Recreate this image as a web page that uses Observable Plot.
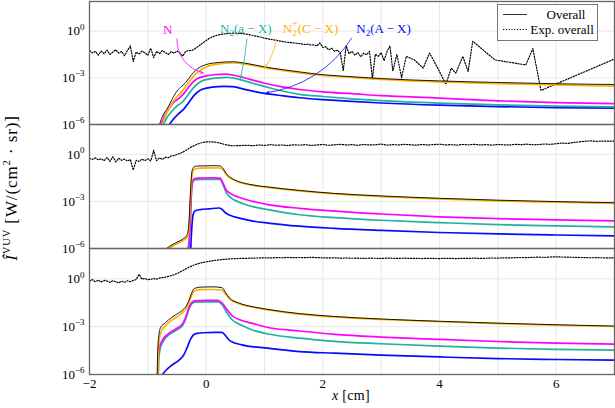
<!DOCTYPE html>
<html><head><meta charset="utf-8">
<script src="https://cdn.jsdelivr.net/npm/d3@7"></script>
<script src="https://cdn.jsdelivr.net/npm/@observablehq/plot@0.6"></script>
<style>
body{margin:0;background:#fff}
#chart{position:relative;width:615px;height:408px;font-family:"Liberation Serif",serif;color:#000;overflow:hidden}
#chart svg, #chart svg text{font-family:"Liberation Serif",serif !important}
.pan{position:absolute;left:0}
#ylab{position:absolute;left:12px;top:188px;transform:translate(-50%,-50%) rotate(-90deg);white-space:nowrap;font-size:17px;letter-spacing:0.9px}
#xlab{position:absolute;left:351px;top:396px;transform:translate(-50%,-50%);white-space:nowrap;font-size:14px;letter-spacing:0.3px}
#legend{position:absolute;left:497px;top:4px;width:99px;height:35px;border:1px solid #777;background:#fff}
#legend svg{position:absolute;left:0;top:0}
</style></head>
<body>
<div id="chart">
  <div id="ylab"><i>Î</i><sup style="vertical-align:7px;font-size:10.5px;line-height:0">VUV</sup> [W/(cm<sup style="vertical-align:7px;font-size:10.5px;line-height:0">2</sup> · sr)]</div>
  <div id="xlab"><i>x</i> [cm]</div>
</div>
<script>
// ---------- axes / ticks ----------
const X_GRID = [-2, -1, 0, 1, 2, 3, 4, 5, 6, 7];
const X_TICKS = [-2, 0, 2, 4, 6];
const Y_TICKS = [1e-6, 1e-3, 1];
const Y_GRID = [1e-3, 1];
const Y_DOMAIN = [1e-6, 80];

const COLORS = {N2A: "#0a0aff", N2a: "#1fb3a0", N: "#ff00ff", N2pC: "#fcb300", overall: "#000000"};
const DRAW_ORDER = ["N2A", "N2a", "N", "N2pC", "overall"];

// ---------- top panel: model curves [x, log10 I] ----------
const topOverall = [[-0.80,-6],[-0.74,-5.4],[-0.67,-5.0],[-0.58,-4.35],[-0.5,-3.85],[-0.42,-3.55],[-0.35,-3.3],[-0.25,-2.8],[-0.12,-2.35],[0.0,-2.15],[0.2,-2.02],[0.45,-1.97],[0.7,-2.08],[1.0,-2.3],[1.3,-2.47],[1.6,-2.62],[2.0,-2.8],[2.5,-2.93],[3,-3.05],[4,-3.2],[5,-3.3],[6,-3.38],[7,-3.43]];
const topN2pC = [[-0.75,-6],[-0.7,-5.45],[-0.62,-4.85],[-0.52,-4.3],[-0.44,-4.0],[-0.36,-3.6],[-0.25,-3.05],[-0.12,-2.55],[0,-2.3],[0.2,-2.12],[0.45,-2.05],[0.7,-2.14],[1.0,-2.35],[1.3,-2.52],[1.6,-2.68],[2,-2.85],[2.5,-2.98],[3,-3.1],[4,-3.26],[5,-3.37],[6,-3.46],[7,-3.53]];
const topN = [[-0.77,-6],[-0.72,-5.5],[-0.65,-5.05],[-0.55,-4.55],[-0.46,-4.3],[-0.38,-4.0],[-0.28,-3.5],[-0.15,-3.05],[0,-2.88],[0.15,-2.8],[0.32,-2.76],[0.5,-2.85],[0.75,-3.1],[1.0,-3.35],[1.3,-3.58],[1.6,-3.75],[2,-3.9],[2.5,-4.02],[3,-4.15],[4,-4.3],[5,-4.48],[6,-4.6],[7,-4.66]];
const topN2a = [[-0.73,-6],[-0.68,-5.6],[-0.6,-5.2],[-0.5,-4.8],[-0.42,-4.6],[-0.34,-4.25],[-0.22,-3.65],[-0.1,-3.25],[0.05,-3.08],[0.2,-3.0],[0.35,-2.97],[0.55,-3.08],[0.8,-3.35],[1.0,-3.55],[1.3,-3.85],[1.6,-4.06],[2,-4.2],[2.5,-4.35],[3,-4.47],[4,-4.63],[5,-4.74],[6,-4.82],[7,-4.87]];
const topN2A = [[-0.63,-6],[-0.56,-5.65],[-0.47,-5.3],[-0.38,-5.0],[-0.3,-4.6],[-0.2,-4.1],[-0.08,-3.75],[0.1,-3.6],[0.3,-3.55],[0.45,-3.57],[0.7,-3.78],[1.0,-4.0],[1.3,-4.15],[1.6,-4.28],[2,-4.4],[2.5,-4.52],[3,-4.62],[4,-4.76],[5,-4.85],[6,-4.91],[7,-4.95]];
// top panel: measured (log10 I), fine samples from x=-2 step 0.05, then sparse [x, log10 I]
const topExpFine = [-1.25,-1.40,-1.30,-1.55,-1.28,-1.45,-1.22,-1.50,-1.35,-1.20,
 -1.42,-1.30,-1.58,-1.25,-0.95,-1.95,-1.35,-1.48,-1.28,-1.40,
 -1.55,-1.10,-1.70,-1.30,-1.45,-1.25,-1.38,-1.50,-1.32,-1.42,
 -1.28,-1.40,-1.60,-1.30,-1.25,
 -1.25,-1.15,-1.02,-0.88,-0.74,-0.60,-0.48,-0.38,-0.31,-0.25,
 -0.21,-0.18,-0.16,-0.14,-0.13,-0.13,-0.14,-0.15,-0.17,-0.20,
 -0.24,-0.28,-0.32,-0.36,-0.40,-0.45,-0.49,-0.52,-0.56,-0.60,
 -0.63,-0.66,-0.69,-0.72,-0.74,-0.76,-0.78,-0.80,-0.83,-0.86,
 -0.84,-0.90,-0.88,-0.95,-0.75,-1.05,-1.00,-1.20,-1.10,-1.30,
 -1.22,-1.40,-2.55,-0.95,-1.45,-1.30,-1.55,-1.38,-1.65,-1.42,
 -1.52,-1.30,-3.05,-1.48,-1.62,-1.38,-1.90,-1.30,-0.95,-2.55];
const topExpSparse = [[3.27,-1.5],[3.35,-3.0],[3.43,-1.62],[3.57,-1.85],[3.72,-2.38],[3.83,-1.41],[3.97,-2.38],[4.11,-3.41],[4.2,-2.38],[4.28,-2.7],[4.4,-1.62],[4.49,-2.59],[4.57,-0.65],[4.95,-1.85],[5.48,-2.17],[5.6,-1.12],[5.74,-3.81],[7.0,-1.79]];

// ---------- middle panel ----------
const midOverall = [[-0.68,-6],[-0.6,-5.8],[-0.5,-5.6],[-0.4,-5.4],[-0.33,-5.15],[-0.3,-4.6],[-0.27,-2.5],[-0.245,-1.1],[-0.21,-0.8],[-0.15,-0.74],[0,-0.73],[0.15,-0.72],[0.24,-0.74],[0.29,-0.9],[0.34,-1.2],[0.42,-1.48],[0.55,-1.72],[0.8,-1.95],[1.06,-2.08],[1.6,-2.3],[2.2,-2.49],[3,-2.65],[4,-2.8],[5,-2.92],[6,-3.01],[7,-3.08]];
const midN2pC = [[-0.64,-6],[-0.55,-5.8],[-0.45,-5.6],[-0.36,-5.4],[-0.31,-5.2],[-0.29,-4.5],[-0.265,-2.5],[-0.24,-1.3],[-0.2,-0.95],[-0.1,-0.88],[0.1,-0.86],[0.24,-0.87],[0.29,-1.0],[0.34,-1.28],[0.42,-1.53],[0.55,-1.76],[0.8,-1.98],[1.06,-2.11],[1.6,-2.33],[2.2,-2.52],[3,-2.69],[4,-2.84],[5,-2.96],[6,-3.05],[7,-3.12]];
const midN = [[-0.31,-6],[-0.285,-5.2],[-0.265,-3.5],[-0.245,-2.0],[-0.22,-1.6],[-0.15,-1.52],[0.1,-1.5],[0.24,-1.52],[0.29,-1.85],[0.34,-2.25],[0.42,-2.5],[0.55,-2.72],[0.8,-3.0],[1.06,-3.2],[1.6,-3.44],[2.2,-3.62],[3,-3.8],[4,-3.98],[5,-4.1],[6,-4.18],[7,-4.24]];
const midN2a = [[-0.295,-6],[-0.275,-4.8],[-0.255,-2.6],[-0.235,-1.85],[-0.2,-1.63],[-0.1,-1.6],[0.1,-1.59],[0.24,-1.6],[0.29,-1.95],[0.34,-2.4],[0.42,-2.75],[0.55,-3.02],[0.8,-3.33],[1.06,-3.52],[1.6,-3.85],[2.2,-4.03],[3,-4.2],[4,-4.35],[5,-4.48],[6,-4.56],[7,-4.62]];
const midN2A = [[-0.265,-6],[-0.245,-4.6],[-0.225,-3.85],[-0.19,-3.6],[-0.1,-3.52],[0.05,-3.47],[0.22,-3.42],[0.27,-3.5],[0.33,-3.72],[0.42,-3.9],[0.55,-4.05],[0.8,-4.25],[1.06,-4.38],[1.6,-4.58],[2.2,-4.72],[3,-4.85],[4,-4.98],[5,-5.07],[6,-5.14],[7,-5.19]];
// measured: from x=-2 step 0.05 (to 0.5), then from x=0.6 step 0.1 (to 7)
const midExpFine = [-0.25,-0.32,-0.22,-0.35,-0.28,-0.40,-0.20,-0.45,-0.15,-0.48,
 -0.25,-0.38,-0.30,-0.42,-0.33,-1.00,-0.38,-0.45,-0.30,-0.40,
 -0.28,-0.42,0.25,-0.40,-0.22,-0.32,-0.18,-0.22,-0.10,-0.08,
 0.00,0.06,0.14,0.25,0.37,0.48,0.57,0.65,0.72,0.76,
 0.79,0.80,0.80,0.78,0.75,0.70,0.65,0.61,0.57,0.55,0.55];
const midExpCoarse = [0.56,0.58,0.55,0.60,0.57,0.62,0.58,0.60,0.56,0.61,
 0.59,0.62,0.57,0.60,0.63,0.58,0.61,0.64,0.60,0.62,
 0.58,0.63,0.60,0.61,0.66,0.59,0.62,0.60,0.64,0.61,
 0.59,0.63,0.60,0.62,0.65,0.60,0.62,0.59,0.63,0.61,
 0.64,0.60,0.62,0.59,0.63,0.61,0.60,0.64,0.62,0.65,
 0.61,0.63,0.66,0.64,0.68,0.72,0.70,0.76,0.80,0.84,
 0.86,0.83,0.85,0.84,0.84];

// ---------- bottom panel ----------
const botOverall = [[-0.84,-6],[-0.83,-4.5],[-0.81,-3.5],[-0.78,-3.05],[-0.7,-2.75],[-0.6,-2.45],[-0.5,-2.2],[-0.4,-1.95],[-0.35,-1.75],[-0.3,-1.4],[-0.25,-0.9],[-0.2,-0.6],[-0.1,-0.52],[0.1,-0.5],[0.27,-0.55],[0.33,-0.85],[0.4,-1.2],[0.55,-1.5],[0.8,-1.75],[1.06,-1.92],[1.6,-2.18],[2.2,-2.36],[3,-2.52],[4,-2.66],[5,-2.78],[6,-2.88],[7,-2.96]];
const botN2pC = [[-0.83,-6],[-0.82,-4.6],[-0.8,-3.7],[-0.77,-3.3],[-0.7,-2.95],[-0.6,-2.62],[-0.5,-2.38],[-0.4,-2.1],[-0.35,-1.9],[-0.3,-1.55],[-0.25,-1.05],[-0.2,-0.75],[-0.1,-0.68],[0.1,-0.67],[0.27,-0.7],[0.33,-0.95],[0.4,-1.25],[0.55,-1.55],[0.8,-1.78],[1.06,-1.95],[1.6,-2.21],[2.2,-2.39],[3,-2.55],[4,-2.69],[5,-2.81],[6,-2.91],[7,-2.99]];
const botN = [[-0.83,-6],[-0.82,-4.8],[-0.8,-4.3],[-0.75,-3.85],[-0.65,-3.45],[-0.5,-3.1],[-0.4,-2.8],[-0.35,-2.4],[-0.3,-1.85],[-0.25,-1.5],[-0.2,-1.38],[0,-1.35],[0.2,-1.35],[0.27,-1.5],[0.35,-1.9],[0.44,-2.3],[0.6,-2.6],[0.78,-2.78],[1.06,-3.05],[1.6,-3.27],[2.2,-3.48],[3,-3.65],[4,-3.8],[5,-3.93],[6,-4.03],[7,-4.1]];
const botN2a = [[-0.82,-6],[-0.81,-5.0],[-0.79,-4.4],[-0.74,-3.95],[-0.65,-3.55],[-0.5,-3.2],[-0.4,-2.9],[-0.35,-2.5],[-0.3,-1.95],[-0.25,-1.58],[-0.2,-1.46],[0,-1.44],[0.2,-1.44],[0.27,-1.6],[0.35,-2.1],[0.44,-2.55],[0.6,-2.9],[0.78,-3.19],[1.06,-3.46],[1.6,-3.72],[2.2,-3.92],[3,-4.07],[4,-4.22],[5,-4.34],[6,-4.42],[7,-4.47]];
const botN2A = [[-0.75,-6],[-0.68,-5.7],[-0.59,-5.42],[-0.45,-5.05],[-0.39,-4.81],[-0.33,-4.35],[-0.27,-3.8],[-0.22,-3.52],[-0.15,-3.42],[-0.05,-3.38],[0.15,-3.36],[0.27,-3.36],[0.34,-3.6],[0.41,-3.89],[0.61,-4.14],[1.06,-4.35],[1.6,-4.56],[2.2,-4.66],[3,-4.78],[4,-4.9],[5,-5.0],[6,-5.06],[7,-5.1]];
const botExpFine = [-0.15,-0.05,-0.18,-0.08,-0.20,-0.10,-0.14,-0.22,-0.12,-0.18,
 -0.25,-0.15,-0.22,-0.12,-0.18,-0.10,-0.05,0.28,-0.02,0.02,
 -0.05,-0.03,0.02,-0.02,0.05,0.08,0.10,0.15,0.20,0.26,
 0.33,0.42,0.52,0.62,0.72,0.80,0.88,0.94,0.99,1.03,
 1.07,1.10,1.13,1.16,1.18,1.20,1.22,1.24,1.25,1.26,1.27];
const botExpCoarse = [1.28,1.29,1.30,1.31,1.32,1.31,1.33,1.32,1.34,1.33,
 1.34,1.33,1.35,1.33,1.32,1.31,1.32,1.30,1.31,1.29,
 1.30,1.28,1.30,1.29,1.28,1.30,1.29,1.28,1.30,1.28,
 1.29,1.27,1.29,1.28,1.27,1.29,1.28,1.27,1.29,1.28,
 1.30,1.28,1.29,1.31,1.30,1.32,1.31,1.33,1.34,1.33,
 1.35,1.36,1.35,1.37,1.38,1.37,1.36,1.35,1.34,1.33,
 1.32,1.33,1.32,1.31,1.32];

// ---------- annotations (top panel), positions in data units (x, log10 I) ----------
const ANNOT = [
  {key:"N",    plain:"N",          color:COLORS.N,    lx:-0.66, ly:0.10, x1:-0.50, y1:-0.50, x2:-0.05, y2:-2.68, bend:-40},
  {key:"N2a",  plain:"N2(a − X)",  color:COLORS.N2a,  lx:0.68,  ly:0.14, x1:0.70,  y1:-0.50, x2:0.59,  y2:-3.03, bend:4},
  {key:"N2pC", plain:"N2+(C − X)", color:COLORS.N2pC, lx:1.79,  ly:0.14, x1:1.21,  y1:-0.47, x2:1.01,  y2:-2.36, bend:12},
  {key:"N2A",  plain:"N2(A − X)",  color:COLORS.N2A,  lx:3.04,  ly:0.14, x1:2.49,  y1:-0.47, x2:1.03,  y2:-3.96, bend:25}
];
const RICH = {
  "N2(a − X)": [{t:"N"},{t:"2",fs:9,dy:3},{t:"(a − X)",dy:-3}],
  "N2+(C − X)": [{t:"N"},{t:"2",fs:9,dy:3},{t:"+",fs:9.5,dx:-4.6,dy:-9},{t:"(C − X)",dy:6,dx:0.3}],
  "N2(A − X)": [{t:"N"},{t:"2",fs:9,dy:3},{t:"(A − X)",dy:-3}]
};
const LEGEND = [{label: "Overall", dash: null, cx: 68}, {label: "Exp. overall", dash: "1.2 1.6", cx: 64}];

// ---------- helpers ----------
const SVGNS = "http://www.w3.org/2000/svg";
const FONT = '"Liberation Serif", serif';
const SUP = {"-":"⁻","0":"⁰","1":"¹","2":"²","3":"³","4":"⁴","5":"⁵","6":"⁶","7":"⁷","8":"⁸","9":"⁹"};
const expOf = d => Math.round(Math.log10(d));
const yFmt = d => "10" + String(expOf(d)).split("").map(c => SUP[c]).join("");
const xFmt = d => d < 0 ? "−" + (-d) : String(d);
const seg = (start, step, vals) => vals.map((v, i) => ({x: Math.round((start + i * step) * 100) / 100, y: 10 ** v}));
const pairs = arr => arr.map(([x, v]) => ({x, y: 10 ** v}));

function richText(el, segs) {
  while (el.firstChild) el.removeChild(el.firstChild);
  for (const s of segs) {
    const t = document.createElementNS(SVGNS, "tspan");
    t.textContent = s.t;
    if (s.fs) t.setAttribute("font-size", s.fs);
    if (s.dy) t.setAttribute("dy", s.dy);
    if (s.dx) t.setAttribute("dx", s.dx);
    el.appendChild(t);
  }
}

function panel(models, expRows, {top, height, marginTop, marginBottom, xAxis, extra}) {
  const marks = [
    Plot.gridX(X_GRID, {stroke: "#e2e2e2", strokeOpacity: 1, strokeWidth: 0.8}),
    Plot.gridY(Y_GRID, {stroke: "#e2e2e2", strokeOpacity: 1, strokeWidth: 0.8}),
    Plot.line(expRows, {x: "x", y: "y", stroke: "#000", strokeWidth: 1.2, strokeDasharray: "1.2 1.6", clip: true})
  ];
  for (const k of DRAW_ORDER) {
    marks.push(Plot.line(models[k], {x: d => d[0], y: d => 10 ** d[1], stroke: COLORS[k],
      strokeWidth: k === "overall" ? 0.9 : 1.7, curve: "monotone-x", clip: true}));
  }
  marks.push(Plot.frame({stroke: "#666", strokeWidth: 1.3}));
  marks.push(Plot.axisY(Y_TICKS, {tickSize: 0, tickPadding: 5, tickFormat: yFmt, label: null, fontSize: 13}));
  if (xAxis) marks.push(Plot.axisX(X_TICKS, {tickSize: 0, tickPadding: 4, tickFormat: xFmt, label: null, fontSize: 13}));
  if (extra) marks.push(...extra);
  const svg = Plot.plot({
    width: 615, height, marginLeft: 89, marginRight: 1, marginTop, marginBottom,
    style: {fontSize: "13px", background: "transparent", overflow: "visible"},
    x: {domain: [-2, 7], axis: null},
    y: {type: "log", domain: Y_DOMAIN, axis: null},
    marks
  });
  svg.classList.add("pan");
  svg.style.top = top + "px";
  svg.style.fontFamily = FONT;
  svg.setAttribute("font-family", FONT);
  svg.querySelectorAll('g[aria-label="y-axis tick label"] text').forEach(el => {
    const m = el.textContent.match(/^10(.*)$/);
    if (!m) return;
    const e = m[1].split("").map(c => Object.keys(SUP).find(k => SUP[k] === c)).join("").replace("-", "−");
    richText(el, [{t: "10"}, {t: e, fs: 9, dy: -5.5}]);
  });
  svg.querySelectorAll('g[aria-label="text"] text').forEach(el => {
    const r = RICH[el.textContent];
    if (r) richText(el, r);
  });
  document.getElementById("chart").appendChild(svg);
  return svg;
}

const annotMarks = [
  ...ANNOT.map(a => Plot.arrow([a], {x1: "x1", y1: d => 10 ** d.y1, x2: "x2", y2: d => 10 ** d.y2,
      bend: a.bend, stroke: a.color, strokeWidth: 0.8, headLength: 6, headAngle: 45})),
  ...ANNOT.map(a => Plot.text([a], {x: "lx", y: d => 10 ** d.ly, text: "plain", fill: a.color, fontSize: 13}))
];

panel({overall: topOverall, N2pC: topN2pC, N: topN, N2a: topN2a, N2A: topN2A},
  [...seg(-2, 0.05, topExpFine), ...pairs(topExpSparse)],
  {top: 0, height: 124, marginTop: 1, marginBottom: 0, xAxis: false, extra: annotMarks});
panel({overall: midOverall, N2pC: midN2pC, N: midN, N2a: midN2a, N2A: midN2A},
  [...seg(-2, 0.05, midExpFine), ...seg(0.6, 0.1, midExpCoarse)],
  {top: 124, height: 124, marginTop: 0, marginBottom: 0, xAxis: false});
panel({overall: botOverall, N2pC: botN2pC, N: botN, N2a: botN2a, N2A: botN2A},
  [...seg(-2, 0.05, botExpFine), ...seg(0.6, 0.1, botExpCoarse)],
  {top: 248, height: 160, marginTop: 0, marginBottom: 34, xAxis: true});

// legend
const leg = document.createElement("div");
leg.id = "legend";
const lsvg = document.createElementNS(SVGNS, "svg");
lsvg.setAttribute("width", 99); lsvg.setAttribute("height", 35);
lsvg.setAttribute("font-family", FONT);
LEGEND.forEach((e, i) => {
  const yy = 9.5 + i * 15;
  const ln = document.createElementNS(SVGNS, "line");
  ln.setAttribute("x1", 5); ln.setAttribute("x2", 29);
  ln.setAttribute("y1", yy); ln.setAttribute("y2", yy);
  ln.setAttribute("stroke", "#000"); ln.setAttribute("stroke-width", e.dash ? 1.1 : 0.8);
  if (e.dash) ln.setAttribute("stroke-dasharray", e.dash);
  lsvg.appendChild(ln);
  const tx = document.createElementNS(SVGNS, "text");
  tx.textContent = e.label;
  tx.setAttribute("x", e.cx); tx.setAttribute("y", yy + 4.3);
  tx.setAttribute("text-anchor", "middle"); tx.setAttribute("font-size", 13);
  lsvg.appendChild(tx);
});
leg.appendChild(lsvg);
document.getElementById("chart").appendChild(leg);
</script>
</body></html>
